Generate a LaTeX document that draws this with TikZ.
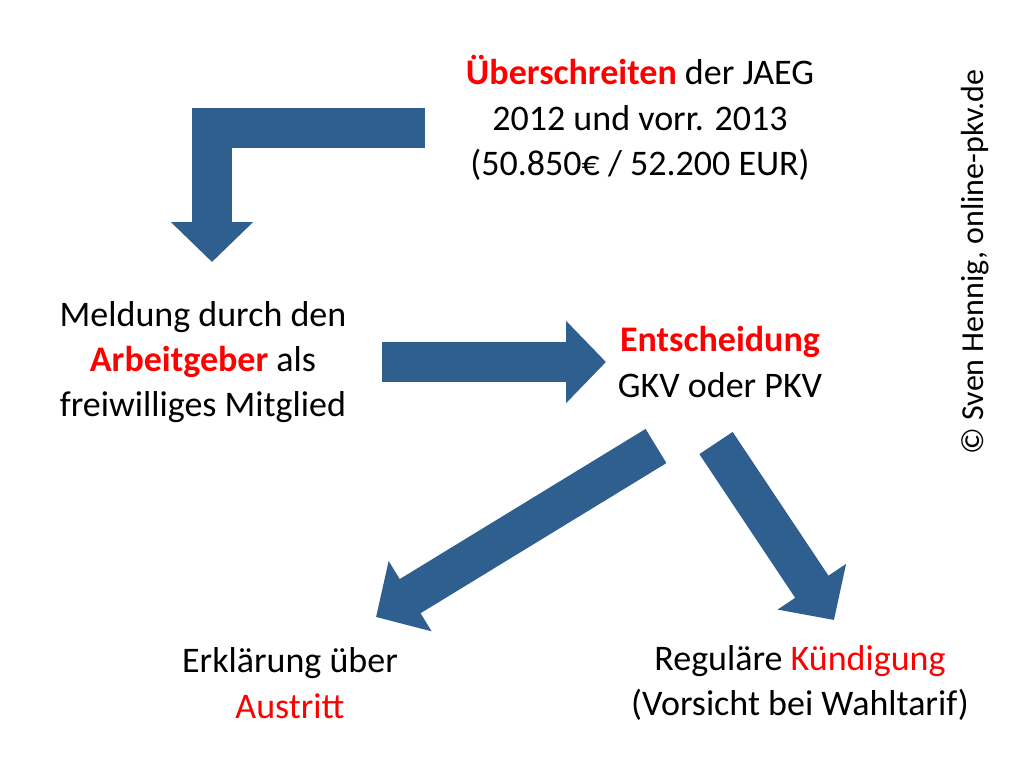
\documentclass[tikz,border=0pt]{standalone}
\usepackage{fontspec}
\setmainfont{Carlito}
\usetikzlibrary{arrows.meta}
\definecolor{ab}{HTML}{2E5F8E}
\definecolor{rd}{HTML}{FF0000}
\begin{document}
\begin{tikzpicture}[x=0.75pt,y=-0.75pt,
  txt/.style={align=center,font=\fontsize{27}{34}\selectfont,inner sep=0pt},
  big/.style={draw=ab,line width=30pt,-{Triangle[length=30pt,width=60pt]},line cap=butt},
  hl/.style={text=rd,font=\bfseries}]
\useasboundingbox (0,0) rectangle (1024,779);
\node[txt] (top) at (640,118) {\textcolor{rd}{\textbf{Überschreiten}} der JAEG\\2012 und vorr. 2013\\(50.850€ / 52.200 EUR)};
\node[txt] (meld) at (203,362) {Meldung durch den\\\textcolor{rd}{\textbf{Arbeitgeber}} als\\freiwilliges Mitglied};
\node[txt] (ent) at (720,362) {\textcolor{rd}{\textbf{Entscheidung}}\\GKV oder PKV};
\node[txt] (erk) at (290,683) {Erklärung über\\\textcolor{rd}{Austritt}};
\node[txt] (reg) at (800,683) {Reguläre \textcolor{rd}{Kündigung}\\(Vorsicht bei Wahltarif)};
\node[font=\fontsize{24}{28}\selectfont,rotate=90,inner sep=0pt] (copy) at (975,262) {© Sven Hennig, online-pkv.de};
\coordinate (a1s) at (425,128);
\coordinate (a1c) at (212,128);
\coordinate (a1e) at (212,262);
\draw[big,rounded corners=0] (a1s) -- (a1c) -- (a1e);
\coordinate (a2s) at (382,362);
\coordinate (a2e) at (606,362);
\draw[big] (a2s) -- (a2e);
\coordinate (a3s) at (656,446);
\coordinate (a3e) at (376,617);
\draw[big] (a3s) -- (a3e);
\coordinate (a4s) at (716,443);
\coordinate (a4e) at (834,620);
\draw[big] (a4s) -- (a4e);
\end{tikzpicture}
\end{document}
